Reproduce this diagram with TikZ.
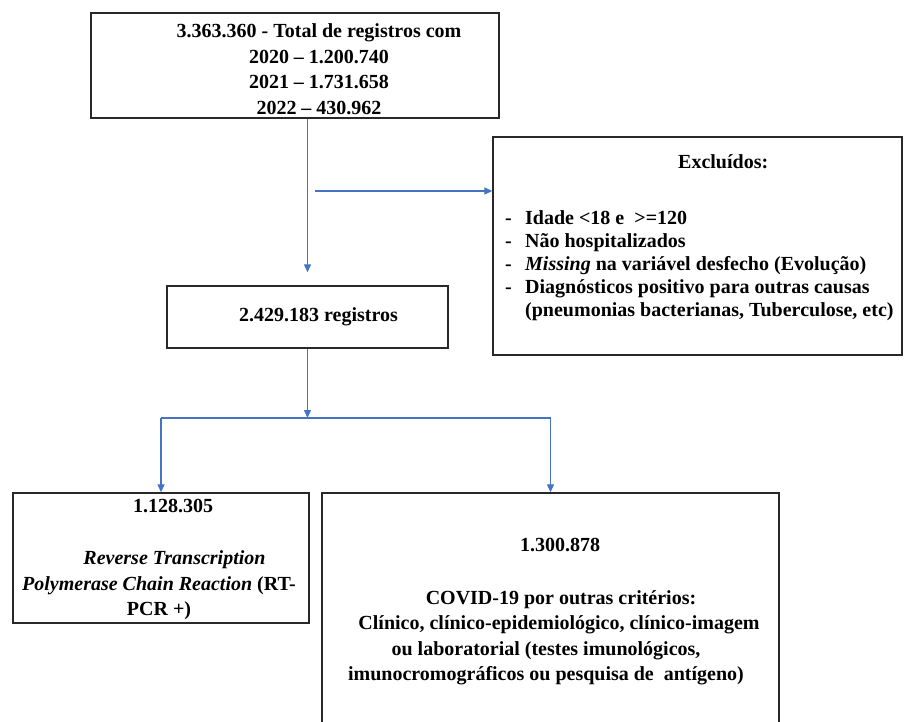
\documentclass[tikz,border=0pt]{standalone}
\usepackage{fontspec}
\setmainfont{Liberation Serif}
\usepackage{tikz}
\usetikzlibrary{arrows.meta, positioning, calc}
\definecolor{flowblue}{RGB}{68, 114, 196}
\definecolor{boxgray}{RGB}{40, 40, 40}
\newcommand{\exclitem}[1]{\makebox[20pt][l]{-}#1}

\tikzset{
  frame/.style={draw=boxgray, line width=1.4pt, inner sep=0pt},
  txt/.style={font=\fontsize{20}{25.5}\selectfont\bfseries, inner sep=0pt, align=center},
  flowline/.style={draw=flowblue, line width=1.3pt},
  flow/.style={flowline, -{Triangle[length=8pt, width=7pt]}},
}

\begin{document}
\begin{tikzpicture}[x=1pt, y=-1pt]
    \useasboundingbox (0,0) rectangle (904,722);

    % Total records
    \node[frame, minimum width=408pt, minimum height=105pt] (total) at (295,65.5) {};
    \node[txt, anchor=north] (totaltxt) at (319,23.5)
        {3.363.360 - Total de registros com\\2020 – 1.200.740\\2021 – 1.731.658\\2022 – 430.962};

    % Exclusions
    \node[frame, minimum width=409pt, minimum height=218pt] (excl) at (697.5,246) {};
    \node[txt, align=left, anchor=north west, font=\fontsize{20}{23}\selectfont\bfseries] (excltxt) at (505,154)
        {\hspace*{173pt}Excluídos:\\[33pt]
         \exclitem{Idade <18 e\ \ >=120}\\
         \exclitem{Não hospitalizados}\\
         \exclitem{\textit{Missing} na variável desfecho (Evolução)}\\
         \exclitem{Diagnósticos positivo para outras causas}\\
         \hspace*{20pt}(pneumonias bacterianas, Tuberculose, etc)};

    % Remaining records
    \node[frame, txt, minimum width=281pt, minimum height=62pt] (registros) at (307.5,317)
        {\hspace*{22pt}2.429.183 registros};

    % RT-PCR branch
    \node[frame, minimum width=296pt, minimum height=130pt] (rtpcr) at (161,558) {};
    \node[txt, anchor=north] (rtpcrtxt) at (159,499)
        {\hspace*{28pt}1.128.305\\[26.5pt]
         \hspace*{31pt}\textit{Reverse Transcription}\\
         \textit{Polymerase Chain Reaction} (RT-\\PCR +)};

    % Other criteria branch
    \node[frame, minimum width=457pt, minimum height=245pt] (outros) at (550.5,615.5) {};
    \node[txt, anchor=north] (outrostxt) at (546,538)
        {\hspace*{28pt}1.300.878\\[27pt]
         \hspace*{30pt}COVID-19 por outras critérios:\\
         \hspace*{26pt}Clínico, clínico-epidemiológico, clínico-imagem\\
         ou laboratorial (testes imunológicos,\\
         imunocromográficos ou pesquisa de\ \ antígeno)};

    % Connectors
    \coordinate (exclstart) at (315,191);
    \coordinate (split) at (307.5,418);
    \draw[flow, shorten >=13pt] (total.south -| registros.north) -- (registros.north);
    \draw[flow] (exclstart) -- (exclstart -| excl.west);
    \draw[flow] (registros.south) -- (split);
    \draw[flowline] (rtpcr.north |- split) -- (outros.north |- split);
    \draw[flow] (rtpcr.north |- split) -- (rtpcr.north);
    \draw[flow] (outros.north |- split) -- (outros.north);
\end{tikzpicture}
\end{document}
